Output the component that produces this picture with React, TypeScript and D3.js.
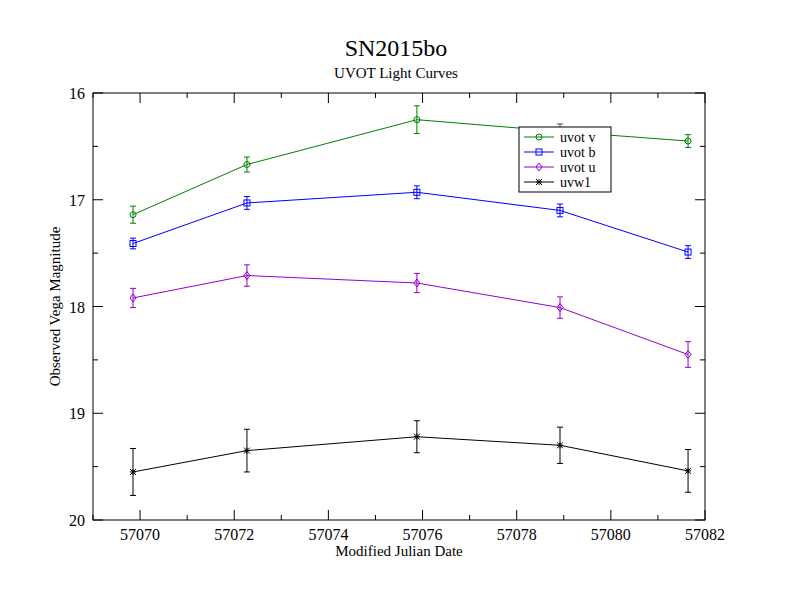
import * as d3 from 'd3'

const mjd = [57069.85, 57072.27, 57075.88, 57078.92, 57081.64]
const seriesNames = ['uvot v', 'uvot b', 'uvot u', 'uvw1']
const seriesColors = ['#008000', '#0000ff', '#9400d3', '#000000']
const vMag = [17.14, 16.67, 16.25, 16.36, 16.45]
const vErr = [0.08, 0.07, 0.13, 0.07, 0.06]
const bMag = [17.41, 17.03, 16.93, 17.1, 17.49]
const bErr = [0.05, 0.06, 0.06, 0.06, 0.06]
const uMag = [17.92, 17.71, 17.78, 18.01, 18.45]
const uErr = [0.09, 0.1, 0.09, 0.1, 0.12]
const wMag = [19.55, 19.35, 19.22, 19.3, 19.54]
const wErr = [0.22, 0.2, 0.15, 0.17, 0.2]
const mags = [vMag, bMag, uMag, wMag]
const errs = [vErr, bErr, uErr, wErr]
const xTicks = [57070, 57072, 57074, 57076, 57078, 57080, 57082]
const yTicks = [16, 17, 18, 19, 20]

const L = 93, R = 705, T = 93, B = 520

function Marker({ i, x, y, c }: { i: number; x: number; y: number; c: string }) {
  const s = 3
  if (i === 0) return <circle cx={x} cy={y} r={s} fill="none" stroke={c} />
  if (i === 1) return <rect x={x - s} y={y - s} width={2 * s} height={2 * s} fill="none" stroke={c} />
  if (i === 2) return <path d={`M${x},${y - s - 1}L${x + s},${y}L${x},${y + s + 1}L${x - s},${y}Z`} fill="none" stroke={c} />
  return (
    <g stroke={c}>
      <line x1={x - s} x2={x + s} y1={y} y2={y} />
      <line x1={x} x2={x} y1={y - s} y2={y + s} />
      <line x1={x - s} x2={x + s} y1={y - s} y2={y + s} />
      <line x1={x - s} x2={x + s} y1={y + s} y2={y - s} />
    </g>
  )
}

export default function App() {
  const x = d3.scaleLinear().domain([57069, 57082]).range([L, R])
  const y = d3.scaleLinear().domain([16, 20]).range([T, B])
  const line = d3.line<number>().x((_, j) => x(mjd[j])).y(d => y(d))
  const minorX = d3.range(57069, 57083, 1)
  const minorY = d3.range(16, 20.01, 0.5)
  return (
    <svg width={792} height={612} style={{ position: 'absolute', left: 0, top: 0, background: '#fff' }}
      fontFamily="Liberation Serif, serif">
      <rect x={L} y={T} width={R - L} height={B - T} fill="none" stroke="#000" />
      {minorX.map(t => (
        <g key={'mx' + t} stroke="#000">
          <line x1={x(t)} x2={x(t)} y1={B} y2={B - (t % 2 === 0 ? 10 : 5)} />
          <line x1={x(t)} x2={x(t)} y1={T} y2={T + (t % 2 === 0 ? 10 : 5)} />
        </g>
      ))}
      {minorY.map(t => (
        <g key={'my' + t} stroke="#000">
          <line x1={L} x2={L + (t % 1 === 0 ? 10 : 5)} y1={y(t)} y2={y(t)} />
          <line x1={R} x2={R - (t % 1 === 0 ? 10 : 5)} y1={y(t)} y2={y(t)} />
        </g>
      ))}
      {xTicks.map(t => (
        <text key={'xt' + t} x={x(t)} y={B + 20} fontSize={16} textAnchor="middle">{t}</text>
      ))}
      {yTicks.map(t => (
        <text key={'yt' + t} x={L - 8} y={y(t) + 6} fontSize={16} textAnchor="end">{t}</text>
      ))}
      <text x={396} y={56} fontSize={24} textAnchor="middle">SN2015bo</text>
      <text x={396} y={78} fontSize={15} textAnchor="middle">UVOT Light Curves</text>
      <text x={399} y={556} fontSize={15} textAnchor="middle">Modified Julian Date</text>
      <text transform={`translate(60,${(T + B) / 2}) rotate(-90)`} fontSize={15} textAnchor="middle">Observed Vega Magnitude</text>
      {mags.map((m, i) => (
        <g key={i}>
          <path d={line(m) ?? ''} fill="none" stroke={seriesColors[i]} />
          {m.map((v, j) => (
            <g key={j} stroke={seriesColors[i]}>
              <line x1={x(mjd[j])} x2={x(mjd[j])} y1={y(v - errs[i][j])} y2={y(v + errs[i][j])} />
              <line x1={x(mjd[j]) - 3} x2={x(mjd[j]) + 3} y1={y(v - errs[i][j])} y2={y(v - errs[i][j])} />
              <line x1={x(mjd[j]) - 3} x2={x(mjd[j]) + 3} y1={y(v + errs[i][j])} y2={y(v + errs[i][j])} />
              <Marker i={i} x={x(mjd[j])} y={y(v)} c={seriesColors[i]} />
            </g>
          ))}
        </g>
      ))}
      <rect x={519} y={127} width={92} height={65} fill="#fff" stroke="#000" />
      {seriesNames.map((n, i) => (
        <g key={n}>
          <line x1={524} x2={554} y1={137 + i * 15} y2={137 + i * 15} stroke={seriesColors[i]} />
          <Marker i={i} x={539} y={137 + i * 15} c={seriesColors[i]} />
          <text x={560} y={142 + i * 15} fontSize={14}>{n}</text>
        </g>
      ))}
    </svg>
  )
}
